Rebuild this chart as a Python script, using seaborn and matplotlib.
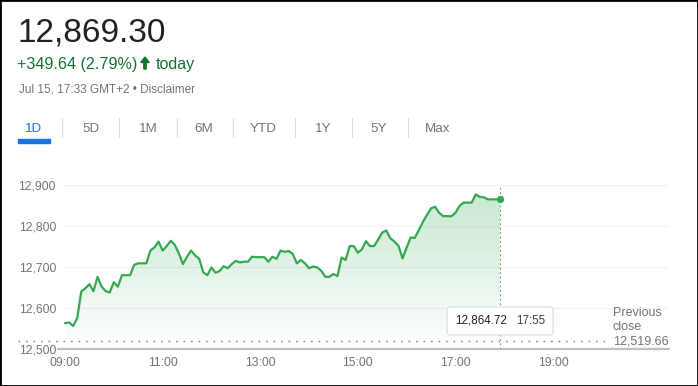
import numpy as np
import pandas as pd
import matplotlib
matplotlib.use("Agg")
import matplotlib.pyplot as plt
import matplotlib.dates as mdates
import matplotlib.colors as mcolors
from matplotlib.patches import Rectangle, FancyArrow, FancyBboxPatch
from matplotlib.lines import Line2D
import seaborn as sns

# values (5 minute steps from 09:00)
prices = [12563, 12565, 12556, 12575, 12640, 12648, 12658, 12641, 12676, 12652,
          12641, 12638, 12663, 12652, 12680, 12680, 12680, 12705, 12709, 12709,
          12709, 12740, 12748, 12762, 12740, 12751, 12764, 12754, 12733, 12707,
          12725, 12740, 12728, 12720, 12687, 12680, 12699, 12686, 12690, 12702,
          12697, 12707, 12715, 12711, 12713, 12713, 12725, 12724, 12724, 12724,
          12713, 12725, 12720, 12740, 12737, 12739, 12732, 12709, 12717, 12709,
          12697, 12701, 12699, 12691, 12676, 12676, 12683, 12678, 12723, 12717,
          12751, 12751, 12735, 12743, 12763, 12751, 12751, 12767, 12784, 12789,
          12770, 12762, 12752, 12721, 12747, 12772, 12771, 12790, 12810, 12827,
          12843, 12847, 12832, 12824, 12824, 12824, 12832, 12849, 12857, 12857,
          12857, 12877, 12871, 12870, 12865, 12865, 12865, 12864.72]
start = "2022-07-15 09:00"
prev_close = 12519.66
y_ticks = [12500, 12600, 12700, 12800, 12900]
x_ticks = ["09:00", "11:00", "13:00", "15:00", "17:00", "19:00"]
tabs = ["1D", "5D", "1M", "6M", "YTD", "1Y", "5Y", "Max"]
price_now = "12,869.30"
change = "+349.64 (2.79%)"
stamp = "Jul 15, 17:33 GMT+2 \u2022 Disclaimer"

GREEN = "#34a853"
GRAY = "#70757a"
W, H = 698, 386

times = pd.date_range(start, periods=len(prices), freq="5min")
df = pd.DataFrame({"time": times, "price": prices})

sns.set_style("white")
plt.rcParams["font.family"] = ["Liberation Sans", "DejaVu Sans"]

fig = plt.figure(figsize=(W / 100, H / 100), dpi=100)
ax = fig.add_axes([62 / W, 37 / H, 607 / W, 164 / H])


def fx(px):
    return px / W


def fy(py):
    return 1 - py / H


sns.lineplot(data=df, x="time", y="price", color=GREEN, lw=1.6, ax=ax, zorder=4)

# gradient under the line
fill = ax.fill_between(df["time"], df["price"], y_ticks[0], facecolor="none", lw=0)
grad = np.zeros((256, 1, 4))
grad[..., :3] = mcolors.to_rgb(GREEN)
grad[:, 0, 3] = np.linspace(0.27, 0.0, 256)
xnum = mdates.date2num(times)
img = ax.imshow(grad, aspect="auto", origin="upper", zorder=2,
                extent=[xnum[0], xnum[-1], y_ticks[0], max(prices)])
img.set_clip_path(fill.get_paths()[0], ax.transData)

last_t, last_p = times[-1], prices[-1]
ax.scatter([last_t], [last_p], s=28, color=GREEN, zorder=5, lw=0)

ax.set_ylim(y_ticks[0], y_ticks[-1])
ax.set_xlim(times[0] - pd.Timedelta(minutes=3.7), times[0] + pd.Timedelta(minutes=742.6))
ax.set_aspect("auto")

ax.set_yticks(y_ticks)
ax.set_yticklabels([f"{v:,}" for v in y_ticks])
tick_times = [pd.Timestamp(f"{start[:10]} {t}") for t in x_ticks]
ax.set_xticks(tick_times)
ax.set_xticklabels(x_ticks)
ax.set_xlabel("")
ax.set_ylabel("")
ax.grid(axis="y", color="#f1f3f4", lw=1)
ax.tick_params(axis="y", length=0, pad=4.3, labelsize=8.8, labelcolor=GRAY)
ax.tick_params(axis="x", length=4, width=1, color="#9aa0a6", pad=2,
               labelsize=8.8, labelcolor=GRAY)
sns.despine(ax=ax, left=True, top=True, right=True, bottom=True)

# axis base line and previous close line
ax.axhline(y_ticks[0], xmin=-4 / 607, xmax=1, color="#bdc1c6", lw=1.6,
           clip_on=False, zorder=3)
ax.axhline(prev_close, xmin=-44 / 607, xmax=543 / 607, color="#80868b",
           lw=1, ls=(0, (1.2, 4.2)), clip_on=False, zorder=3)
ax.axvline(last_t, color="#80868b", lw=0.8, ls=(0, (1.5, 2.5)), zorder=3)

# tooltip box, placed in pixels around the last point's x
tip_y = 0.171
px_x = ax.transData.transform((mdates.date2num(last_t), y_ticks[0]))[0]
px_y = ax.transAxes.transform((0, tip_y))[1]
box = FancyBboxPatch((px_x - 51, px_y - 12), 102, 24,
                     boxstyle="round,pad=2,rounding_size=3",
                     fc="white", ec="#dadce0", lw=0.8, transform=None, zorder=6)
ax.add_artist(box)
ax.annotate(f"{last_p:,.2f}", xy=(last_t, tip_y), xycoords=("data", "axes fraction"),
            xytext=(5, 0), textcoords="offset points", ha="right", va="center",
            fontsize=8.4, color="#202124", zorder=7)
ax.annotate(f"{last_t:%H:%M}", xy=(last_t, tip_y), xycoords=("data", "axes fraction"),
            xytext=(11.5, 0), textcoords="offset points", ha="left", va="center",
            fontsize=8.4, color="#3c4043", zorder=7)

# previous close label
for i, line in enumerate(["Previous", "close", f"{prev_close:,.2f}"]):
    ax.annotate(line, xy=(550.7 / 607, prev_close), xycoords=("axes fraction", "data"),
                xytext=(0, (2 - i) * 10.5 - 0.7), textcoords="offset points",
                ha="left", va="center", fontsize=9, color=GRAY, zorder=6,
                annotation_clip=False)

# header
fig.text(fx(17), fy(41), price_now, fontsize=24, color="#202124", va="baseline")
fig.text(fx(17), fy(69), change, fontsize=11.6, color="#137333", va="baseline")
fig.patches.append(FancyArrow(1.45, (H - 69) / 100, 0, 0.12, width=0.024,
                              head_width=0.085, head_length=0.055,
                              length_includes_head=True, color="#137333",
                              transform=fig.dpi_scale_trans, figure=fig))
fig.text(fx(156), fy(69), "today", fontsize=11.6, color="#137333", va="baseline")
fig.text(fx(19), fy(92.3), stamp, fontsize=8.5, color=GRAY, va="baseline")

tab_x = [34, 91, 148, 204, 263, 323, 379, 437.5]
sep_x = [62.3, 119, 176.7, 233.3, 295, 351.7, 408.3]
for i, (t, x) in enumerate(zip(tabs, tab_x)):
    fig.text(fx(x), fy(132.3), t, fontsize=9.6, ha="center", va="baseline",
             color="#1a73e8" if i == 0 else GRAY)
for x in sep_x:
    fig.add_artist(Line2D([fx(x), fx(x)], [fy(117.5), fy(137.5)],
                          color="#dadce0", lw=0.8, transform=fig.transFigure))
fig.patches.append(Rectangle((fx(18), fy(142.5)), 32 / W, 4 / H, color="#1a73e8",
                             transform=fig.transFigure, figure=fig))

# outer frame
fig.patches.append(Rectangle((0, 0), 1, 1, fill=False, ec="black", lw=2,
                             transform=fig.transFigure, figure=fig))

fig.savefig("out.png", dpi=100)
